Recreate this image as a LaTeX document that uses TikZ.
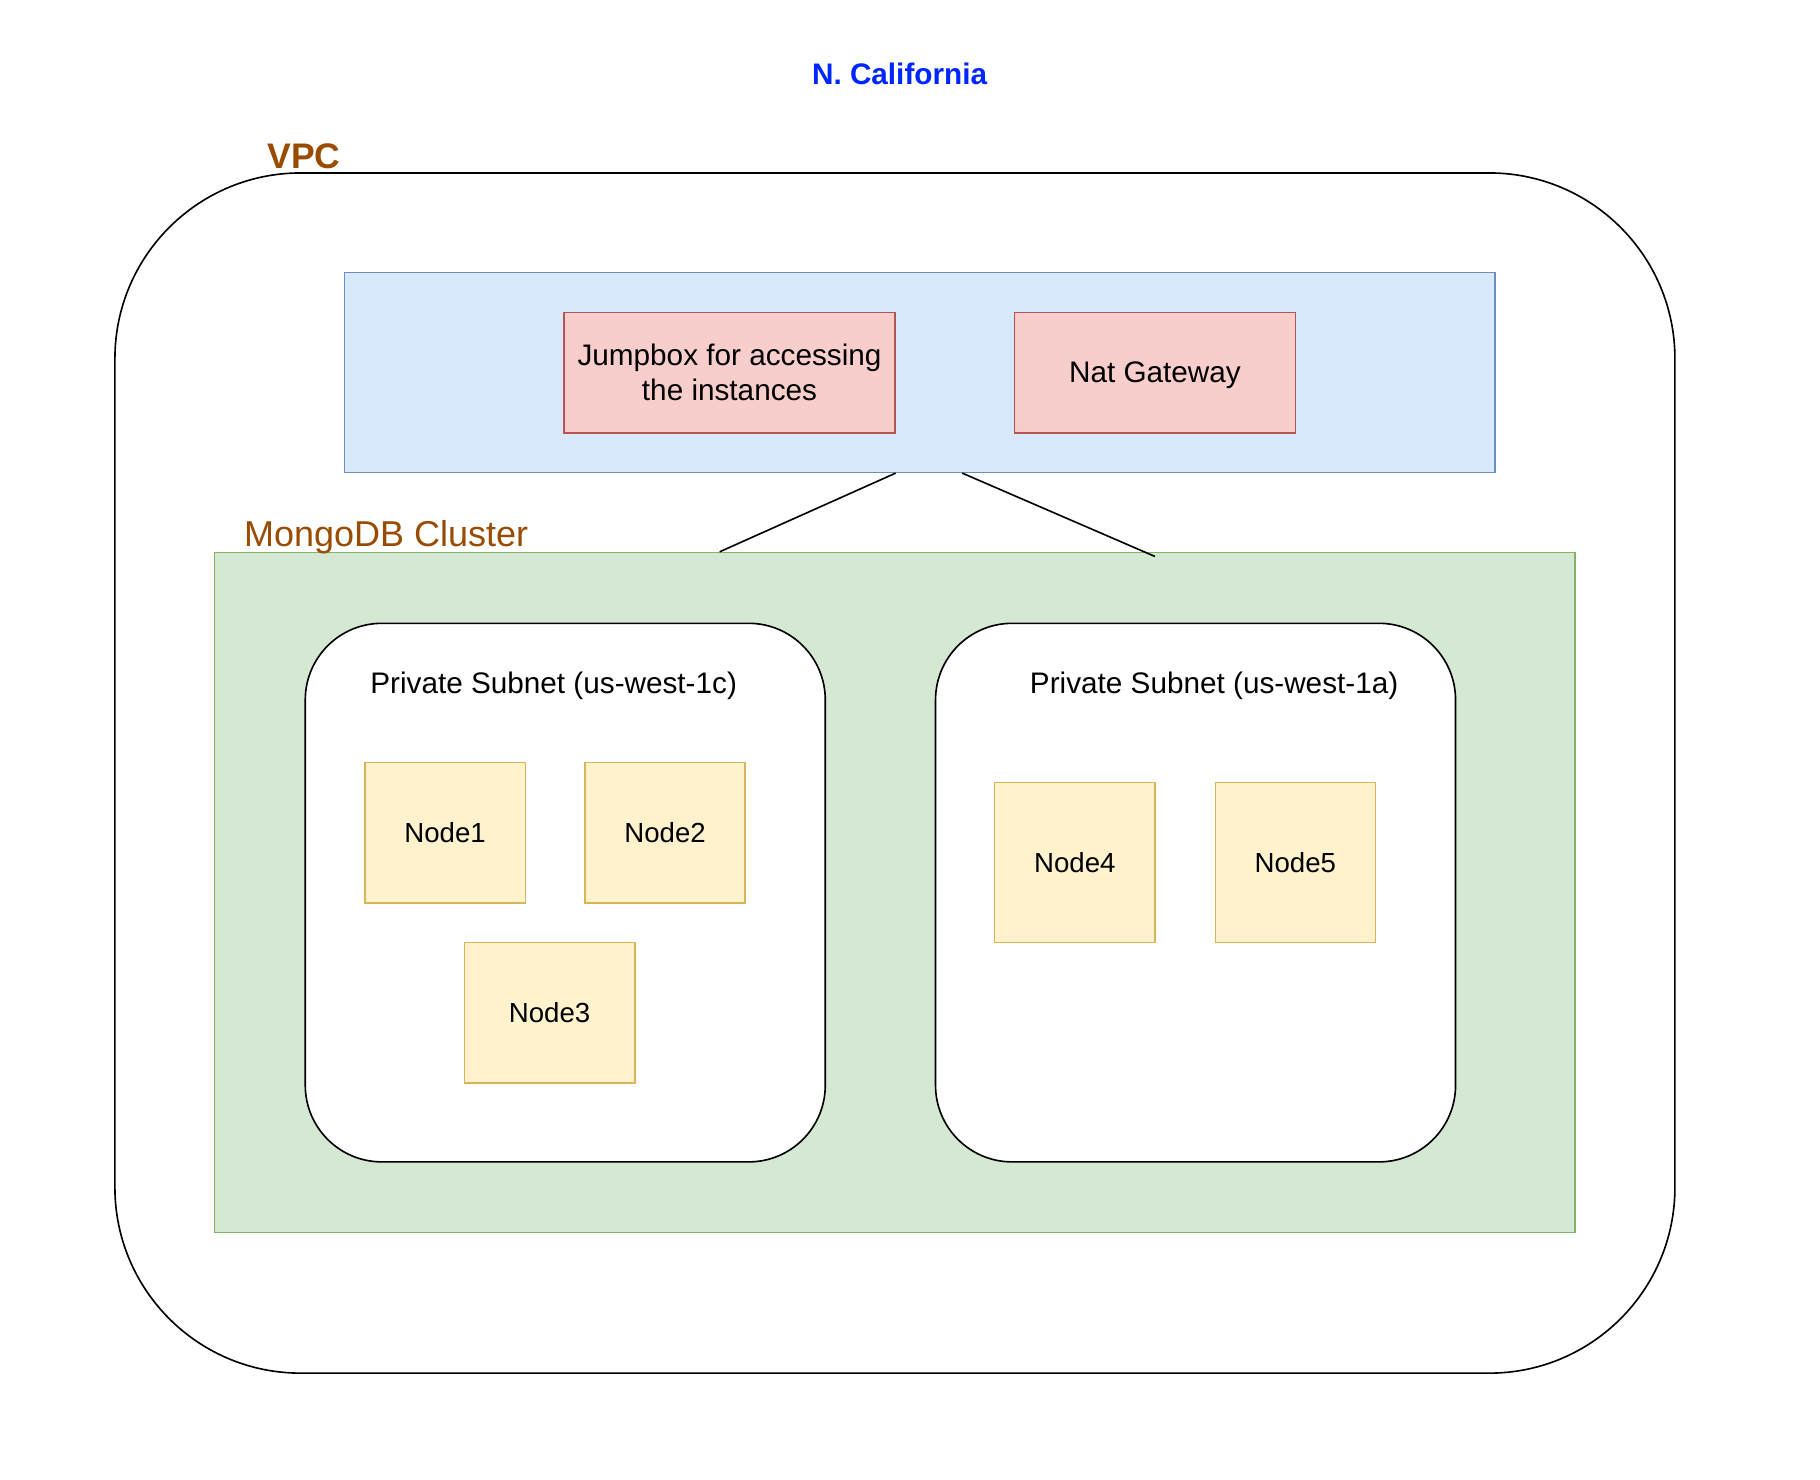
\documentclass[tikz,border=0pt]{standalone}
\usepackage{fontspec}
\setmainfont{Liberation Sans}
\usetikzlibrary{positioning}
\definecolor{regionblue}{RGB}{0,38,255}
\definecolor{vpcbrown}{HTML}{994C00}
\definecolor{pubfill}{HTML}{DAE8FC}
\definecolor{publine}{HTML}{6C8EBF}
\definecolor{boxfill}{HTML}{F8CECC}
\definecolor{boxline}{HTML}{B85450}
\definecolor{clusterfill}{HTML}{D5E8D4}
\definecolor{clusterline}{HTML}{82B366}
\definecolor{instfill}{HTML}{FFF2CC}
\definecolor{instline}{HTML}{D6B656}
\tikzset{
  gatebox/.style={
    rectangle,
    draw=boxline,
    fill=boxfill,
    line width=0.6pt,
    align=center,
    minimum height=52pt,
    font=\fontsize{12.8}{15}\selectfont
  },
  instbox/.style={
    rectangle,
    draw=instline,
    fill=instfill,
    line width=0.6pt,
    minimum width=69pt,
    minimum height=60.5pt,
    text depth=0pt,
    font=\fontsize{11.9}{14}\selectfont
  },
  subnetbox/.style={
    rectangle,
    draw=black,
    fill=white,
    line width=0.7pt,
    rounded corners=33pt,
    minimum width=224pt,
    minimum height=232pt
  },
  link/.style={
    line width=0.7pt
  }
}

\begin{document}
\begin{tikzpicture}[x=0.5pt, y=-0.5pt]
  \useasboundingbox[fill=white] (0,0) rectangle (1568,1275);

  % Region and VPC
  \node[font=\fontsize{12.8}{15}\selectfont\bfseries, text=regionblue] (region) at (775,64) {N. California};
  \node[draw, rectangle, line width=0.7pt, rounded corners=80pt, minimum width=672pt, minimum height=517pt] (vpc) at (771,666) {};
  \node[anchor=west, inner sep=0pt, font=\fontsize{15.3}{18}\selectfont\bfseries, text=vpcbrown] (vpclabel) at (230,135) {VPC};

  % Public part
  \node[draw=publine, fill=pubfill, rectangle, line width=0.6pt, minimum width=495.5pt, minimum height=86pt] (public) at (792.5,321) {};
  \node[gatebox, minimum width=142.5pt] (jump) at (628.5,321) {Jumpbox for accessing\\the instances};
  \node[gatebox, minimum width=121pt, text depth=0pt] (nat) at (995,321) {Nat Gateway};

  % Cluster
  \node[draw=clusterline, fill=clusterfill, rectangle, line width=0.6pt, minimum width=586pt, minimum height=293pt] (cluster) at (771,769) {};
  \node[anchor=west, inner sep=0pt, font=\fontsize{15.5}{18}\selectfont, text=vpcbrown] (clusterlabel) at (210,463) {MongoDB Cluster};

  % Connections
  \draw[link] (public.south -| jump.east) -- ([xshift=-75.5pt]cluster.north);
  \draw[link] ([xshift=18.25pt]public.south) -- ([yshift=-2pt]cluster.north -| nat.south);

  % Subnets
  \node[subnetbox] (subnetc) at (487,769) {};
  \node[subnetbox] (subneta) at (1030,769) {};
  \node[font=\fontsize{12.8}{15}\selectfont] (subnetclabel) at (477,591) {Private Subnet (us-west-1c)};
  \node[font=\fontsize{12.8}{15}\selectfont] (subnetalabel) at (1046,591) {Private Subnet (us-west-1a)};

  % Instances
  \node[instbox] (node1) at (383.5,717.5) {Node1};
  \node[instbox] (node2) at (573,717.5) {Node2};
  \node[instbox, minimum width=73.5pt] (node3) at (473.5,872.5) {Node3};
  \node[instbox, minimum height=69pt] (node4) at (926,743) {Node4};
  \node[instbox, minimum height=69pt] (node5) at (1116,743) {Node5};
\end{tikzpicture}
\end{document}
